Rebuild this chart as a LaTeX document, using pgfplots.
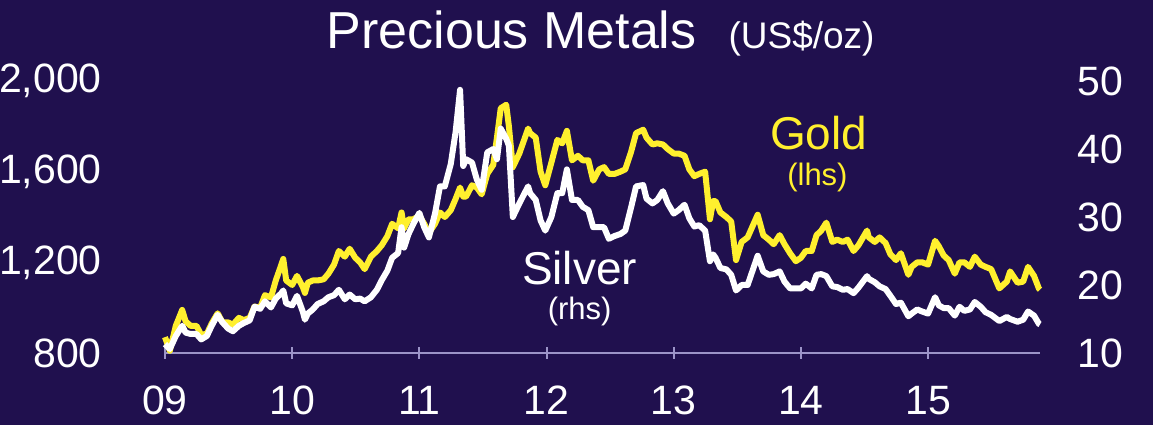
\documentclass[border=0pt]{standalone}
\usepackage{pgfplots}
\pgfplotsset{compat=1.18}
\usepackage{pgfplotstable}
\usepackage{fontspec}
\setmainfont{Liberation Sans}
\definecolor{bg}{RGB}{32,16,78}
\definecolor{goldc}{RGB}{255,240,46}
\definecolor{axc}{RGB}{156,148,200}

% decimal year, gold (US$/oz, lhs), silver (US$/oz, rhs)
\pgfplotstableread{
x gold silver
2009.000 870 11.3
2009.038 810 10.6
2009.085 920 12.5
2009.135 990 14.0
2009.162 940 13.0
2009.200 920 12.8
2009.247 920 12.8
2009.285 880 12.0
2009.329 885 12.5
2009.367 930 14.0
2009.414 975 15.6
2009.452 935 14.5
2009.496 935 13.6
2009.534 925 13.2
2009.581 955 14.0
2009.619 945 14.4
2009.666 955 14.8
2009.704 1005 16.8
2009.748 1000 16.5
2009.786 1055 17.6
2009.833 1045 16.7
2009.871 1120 18.0
2009.915 1190 18.8
2009.930 1215 19.2
2009.953 1120 17.3
2010.000 1100 17.0
2010.038 1140 18.4
2010.085 1090 16.0
2010.100 1065 14.9
2010.123 1110 15.8
2010.162 1120 16.4
2010.200 1120 17.2
2010.247 1125 17.6
2010.285 1150 18.2
2010.329 1190 18.5
2010.367 1250 19.3
2010.414 1225 17.9
2010.452 1260 18.6
2010.496 1220 17.9
2010.534 1200 18.0
2010.570 1170 17.6
2010.619 1225 18.2
2010.666 1250 19.3
2010.704 1275 20.7
2010.748 1315 22.1
2010.786 1370 24.0
2010.833 1350 24.7
2010.860 1420 28.5
2010.880 1350 25.5
2010.915 1390 27.5
2010.953 1390 29.0
2011.000 1405 30.6
2011.038 1370 28.5
2011.075 1330 27.0
2011.123 1370 30.5
2011.162 1420 34.5
2011.200 1400 34.5
2011.247 1430 37.8
2011.285 1480 42.5
2011.320 1530 48.7
2011.345 1490 37.5
2011.367 1490 38.5
2011.414 1540 38.0
2011.452 1530 35.5
2011.490 1500 34.0
2011.534 1590 39.5
2011.581 1630 40.0
2011.610 1750 38.5
2011.640 1880 43.0
2011.683 1895 41.5
2011.704 1800 40.5
2011.735 1620 30.0
2011.786 1680 32.0
2011.855 1790 34.5
2011.871 1770 33.5
2011.915 1750 32.5
2011.953 1600 29.5
2011.990 1540 28.0
2012.038 1640 30.0
2012.085 1740 33.5
2012.123 1725 33.5
2012.160 1780 37.0
2012.200 1650 32.5
2012.247 1670 32.5
2012.285 1650 31.5
2012.329 1650 31.0
2012.367 1560 28.5
2012.414 1610 28.5
2012.452 1620 28.5
2012.490 1590 26.8
2012.534 1590 27.2
2012.581 1600 27.5
2012.619 1610 28.0
2012.666 1690 31.5
2012.704 1770 34.5
2012.760 1785 34.7
2012.786 1750 32.7
2012.833 1720 32.0
2012.871 1725 32.5
2012.915 1720 33.8
2012.953 1700 32.0
2013.000 1680 30.5
2013.038 1680 31.0
2013.085 1670 31.8
2013.123 1610 29.8
2013.162 1580 28.6
2013.200 1590 28.8
2013.247 1600 28.0
2013.285 1390 23.5
2013.310 1470 24.5
2013.329 1470 24.0
2013.367 1420 22.5
2013.414 1400 22.3
2013.452 1380 21.5
2013.490 1210 19.2
2013.534 1290 20.0
2013.581 1310 20.0
2013.660 1410 24.3
2013.704 1320 22.0
2013.748 1300 21.5
2013.786 1280 21.6
2013.833 1320 22.0
2013.871 1280 20.5
2013.915 1240 19.5
2013.960 1205 19.5
2014.000 1220 19.5
2014.038 1250 20.2
2014.085 1250 19.5
2014.123 1320 21.5
2014.160 1340 21.6
2014.200 1375 21.3
2014.247 1290 19.8
2014.285 1300 19.7
2014.329 1290 19.3
2014.367 1300 19.4
2014.414 1250 18.8
2014.452 1275 19.6
2014.520 1340 21.3
2014.534 1310 20.9
2014.581 1290 20.4
2014.619 1310 19.8
2014.666 1285 19.4
2014.704 1235 18.4
2014.748 1210 17.2
2014.786 1240 17.4
2014.845 1145 15.4
2014.871 1180 15.8
2014.915 1200 16.4
2014.953 1200 16.1
2015.000 1190 15.8
2015.055 1295 18.2
2015.085 1270 17.0
2015.123 1230 16.6
2015.162 1210 16.6
2015.210 1150 15.5
2015.247 1200 16.8
2015.285 1200 16.2
2015.329 1180 16.4
2015.367 1225 17.5
2015.414 1190 16.8
2015.452 1180 16.0
2015.496 1170 15.6
2015.560 1085 14.7
2015.619 1115 15.3
2015.645 1160 15.0
2015.704 1110 14.6
2015.748 1115 14.9
2015.786 1180 16.1
2015.833 1140 15.5
2015.871 1085 14.3
2015.880 1080 14.2
}\metals

\pgfplotsset{
  metalaxis/.style={
    at={(0,0)}, anchor=south west,
    scale only axis, width=875pt, height=272pt,
    xmin=2009, xmax=2015.88,
    clip=false,
    tick align=outside,
    major tick length=12pt,
    ytick style={draw=none},
    y axis line style={draw=none},
    yticklabel style={text=white, inner sep=0pt, font=\fontsize{41}{41}\selectfont},
  },
}

\begin{document}
\begin{tikzpicture}
\useasboundingbox (-165pt,-72pt) rectangle (988pt,353pt);
\fill[bg] (-165pt,-72pt) rectangle (988pt,353pt);

\begin{axis}[
  metalaxis,
  ymin=800, ymax=2000,
  axis x line=bottom, axis y line=left,
  x axis line style={-, draw=axc, line width=2pt},
  xtick style={draw=axc, line width=2pt},
  xtick={2009,2010,...,2015},
  xticklabels={09,10,11,12,13,14,15},
  xticklabel style={text=white, inner sep=0pt, anchor=north, yshift=-27pt,
    font=\fontsize{41}{41}\selectfont},
  ytick={800,1200,1600,2000},
  yticklabel={\makebox[110pt][r]{\pgfmathprintnumber[assume math mode=true,fixed,precision=0,1000 sep={,}]{\tick}}},
  yticklabel style={anchor=east, xshift=-57pt},
]
\addplot[goldc, line width=6pt, line join=round] table[x=x, y=gold] {\metals};
\node[anchor=base, text=white, inner sep=0pt] at (axis cs:2012.425,2145)
  {\fontsize{52}{52}\selectfont Precious Metals\hspace{32pt}\fontsize{37}{37}\selectfont(US\$/oz)};
\node[text=goldc, inner sep=0pt, font=\fontsize{46}{46}\selectfont] at (axis cs:2014.14,1770) {Gold};
\node[text=goldc, inner sep=0pt, font=\fontsize{31}{31}\selectfont] at (axis cs:2014.13,1576) {(lhs)};
\node[text=white, inner sep=0pt, font=\fontsize{46}{46}\selectfont] at (axis cs:2012.26,1175) {Silver};
\node[text=white, inner sep=0pt, font=\fontsize{31}{31}\selectfont] at (axis cs:2012.26,981) {(rhs)};
\end{axis}

\begin{axis}[
  metalaxis,
  ymin=10, ymax=50,
  axis x line=none, axis y line*=right,
  ytick={10,20,30,40,50},
  yticklabels={10,20,30,40,50},
  yticklabel style={anchor=west, xshift=25pt},
]
\addplot[white, line width=6pt, line join=round] table[x=x, y=silver] {\metals};
\end{axis}
\end{tikzpicture}
\end{document}
